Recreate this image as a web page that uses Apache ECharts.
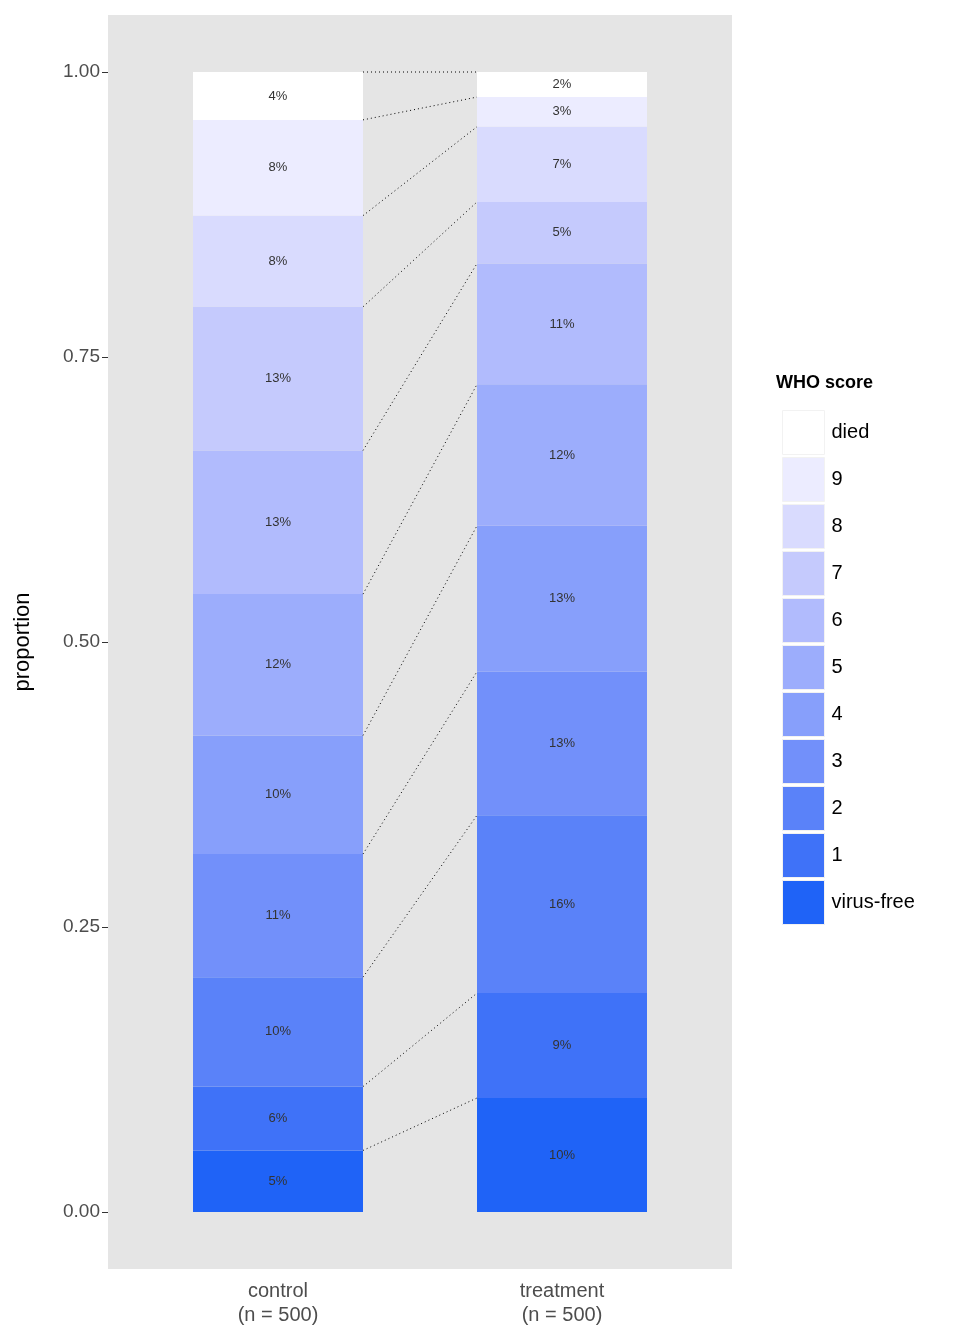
<!DOCTYPE html>
<html>
<head>
<meta charset="utf-8">
<script src="https://cdn.jsdelivr.net/npm/echarts@6/dist/echarts.min.js"></script>
<style>html,body{margin:0;padding:0;background:#fff}#main{width:960px;height:1344px}</style>
</head>
<body>
<div id="main"></div>
<script>
// groups and WHO score levels (bottom to top)
var groups = ['control\n(n = 500)', 'treatment\n(n = 500)'];
var scores = ['virus-free', '1', '2', '3', '4', '5', '6', '7', '8', '9', 'died'];
var controlCounts = [27, 28, 48, 54, 52, 62, 63, 63, 40, 42, 21];
var treatmentCounts = [50, 46, 78, 63, 64, 62, 53, 27, 33, 13, 11];
var colors = ['#1F63F7', '#3F72F8', '#5A82F9', '#7290FA', '#879FFB', '#9CADFC',
              '#B1BBFD', '#C5CAFD', '#D9DBFE', '#ECECFF', '#FFFFFF'];
var yTicks = [0, 0.25, 0.5, 0.75, 1];

var chart = echarts.init(document.getElementById('main'));
var nC = 500, nT = 500;

var series = scores.map(function (s, i) {
	return {
		name: s,
		type: 'bar',
		stack: 'all',
		xAxisIndex: 1,
		yAxisIndex: 1,
		barWidth: 170,
		itemStyle: { color: colors[i] },
		label: {
			show: true,
			position: 'inside',
			color: '#333',
			fontSize: 13,
			fontFamily: 'Liberation Sans',
			formatter: function (p) { return Math.round(p.value * 100) + '%'; }
		},
		emphasis: { disabled: true },
		data: [controlCounts[i] / nC, treatmentCounts[i] / nT]
	};
});

// dotted connectors between cumulative boundaries
var cumC = 0, cumT = 0;
for (var i = 0; i < scores.length; i++) {
	cumC += controlCounts[i] / nC;
	cumT += treatmentCounts[i] / nT;
	series.push({
		type: 'line',
		xAxisIndex: 2,
		yAxisIndex: 1,
		symbol: 'none',
		silent: true,
		lineStyle: { color: '#000', width: 1, type: [1, 3] },
		data: [[1.2993, cumC], [1.7007, cumT]]
	});
}

chart.setOption({
	animation: false,
	grid: [
		{ left: 108, top: 15, width: 624, height: 1254, backgroundColor: '#E5E5E5', show: true, borderWidth: 0 },
		{ left: 136, top: 15, width: 568, height: 1254 }
	],
	legend: {
		data: scores.slice().reverse(),
		orient: 'vertical',
		left: 777,
		top: 405,
		icon: 'rect',
		itemWidth: 42,
		itemHeight: 44,
		itemGap: 2,
		selectedMode: false,
		itemStyle: { borderColor: '#F2F2F2', borderWidth: 1 },
		textStyle: { fontSize: 20, color: '#000', fontFamily: 'Liberation Sans', padding: [0, 0, 0, 2] }
	},
	graphic: [{
		type: 'text', left: 776, top: 374,
		style: { text: 'WHO score', fontSize: 18, fontWeight: 'bold', fill: '#000', fontFamily: 'Liberation Sans' }
	}],
	xAxis: [
		{ type: 'value', gridIndex: 0, show: false, min: 0, max: 1 },
		{
			type: 'category', gridIndex: 1, data: groups,
			axisLine: { show: false },
			axisTick: { alignWithLabel: true, length: 6, lineStyle: { color: '#333' } },
			axisLabel: { fontSize: 20, color: '#4D4D4D', fontFamily: 'Liberation Sans', lineHeight: 24, margin: 10 }
		},
		{ type: 'value', gridIndex: 1, show: false, min: 0.5, max: 2.5 }
	],
	yAxis: [
		{
			type: 'value', gridIndex: 0, min: -0.05, max: 1.05,
			name: 'proportion', nameLocation: 'middle', nameGap: 74, nameRotate: 90,
			nameTextStyle: { fontSize: 22, color: '#000', fontFamily: 'Liberation Sans' },
			splitLine: { show: false },
			axisLine: { show: false },
			axisTick: { show: true, length: 6, customValues: yTicks, lineStyle: { color: '#333' } },
			axisLabel: {
				customValues: yTicks, fontSize: 19, color: '#4D4D4D', fontFamily: 'Liberation Sans',
				formatter: function (v) { return v.toFixed(2); }
			}
		},
		{ type: 'value', gridIndex: 1, min: -0.05, max: 1.05, show: false, splitLine: { show: false } }
	],
	series: series
});
</script>
</body>
</html>
